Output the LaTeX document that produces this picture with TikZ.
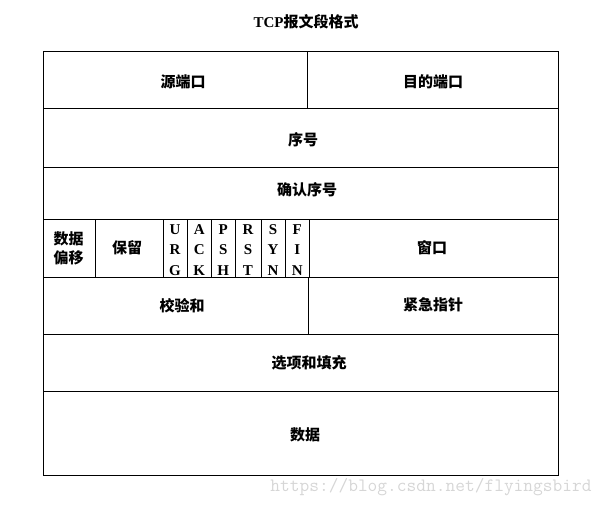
\documentclass[tikz,border=0pt]{standalone}
\usepackage{fontspec}
\usepackage{xcolor}
\usepackage{tikz}
\setmainfont{Liberation Serif}
\newfontfamily\cjk{Noto Sans CJK SC}
\definecolor{wmgray}{RGB}{214,214,214}
\tikzset{
	lbl/.style={font=\cjk\bfseries\fontsize{15}{18}\selectfont},
	flag/.style={font=\bfseries\fontsize{15}{20.5}\selectfont,align=center}
}

\begin{document}
\begin{tikzpicture}[x=1pt,y=-1pt,line width=1pt]
		\useasboundingbox (0,0) rectangle (606,506);
		\node[font=\bfseries\fontsize{15}{18}\selectfont] (title) at (306,22) {TCP{\cjk 报文段格式}};
		
		\draw (43,51) rectangle (558,475);
		\foreach \y in {108,167,219,277,334,391}{
			\draw (43,\y) -- (558,\y);
		}
		\draw (307,51) -- (307,108);
		\draw (308,277) -- (308,334);
		\foreach \x in {95,163,187,211,235,261,285,309}{
			\draw (\x,219) -- (\x,277);
		}
		
		\node[lbl] (srcport) at (183,82) {源端口};
		\node[lbl] (dstport) at (433,82) {目的端口};
		\node[lbl] (seq) at (303,140) {序号};
		\node[lbl] (ack) at (307,190) {确认序号};
		\node[lbl,align=center,font=\cjk\bfseries\fontsize{15}{19}\selectfont] (offset) at (68.5,248) {数据\\偏移};
		\node[lbl] (reserved) at (127,248) {保留};
		\node[lbl] (window) at (432,248) {窗口};
		\node[lbl] (checksum) at (182,306) {校验和};
		\node[lbl] (urgent) at (433,305) {紧急指针};
		\node[lbl] (options) at (309,363) {选项和填充};
		\node[lbl] (data) at (305,435) {数据};
		
		\foreach \f/\x [count=\i] in {{U\\R\\G}/175,{A\\C\\K}/199.3,{P\\S\\H}/223.3,{R\\S\\T}/248,{S\\Y\\N}/273,{F\\I\\N}/297.3}{
			\node[flag] (flag\i) at (\x,250) {\f};
		}
		
		\node[text=wmgray,font=\ttfamily\fontsize{18.9}{20}\selectfont] (mark) at (431,487) {https://blog.csdn.net/flyingsbird};
	\end{tikzpicture}
\end{document}
